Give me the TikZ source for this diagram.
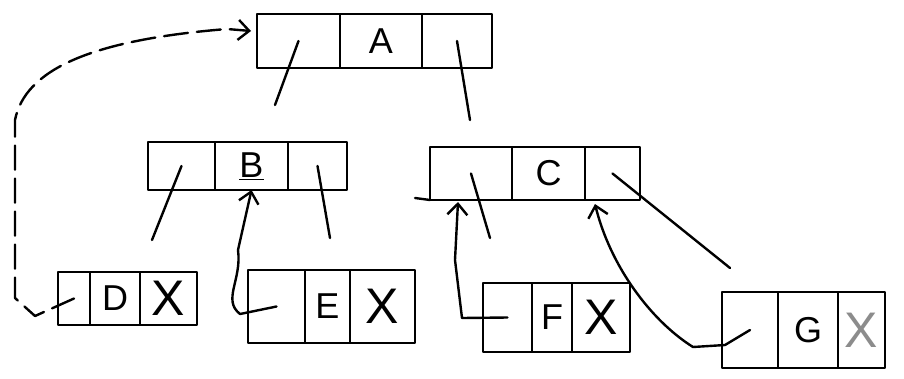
\documentclass[tikz,border=0pt]{standalone}
\usepackage{fontspec}
\setmainfont{Liberation Sans}
\usetikzlibrary{arrows.meta,calc}
\begin{document}
\begin{tikzpicture}[x=1pt,y=-1pt,
  line width=2.4pt, line cap=round, line join=round,
  cell/.style={draw, inner sep=0pt, outer sep=0pt, font=\fontsize{36}{36}\selectfont},
  nullx/.style={cell, font=\fontsize{50}{50}\selectfont},
  ptr/.style={draw},
  thread/.style={draw, -{Straight Barb[length=11pt,width=20pt,line width=2.4pt]}},
  dthread/.style={thread, dash pattern=on 24pt off 9pt}]
\useasboundingbox[fill=white] (0,0) rectangle (904,378);

% A
\node[cell, minimum width=83pt, minimum height=54pt] (Al) at (298.5,41) {};
\node[cell, minimum width=82pt, minimum height=54pt] (Ad) at (381,41) {A};
\node[cell, minimum width=70pt, minimum height=54pt] (Ar) at (457,41) {};
% B
\node[cell, minimum width=67pt, minimum height=48pt] (Bl) at (181.5,166) {};
\node[cell, minimum width=73pt, minimum height=48pt] (Bd) at (251.5,166) {\underline{B}};
\node[cell, minimum width=59pt, minimum height=48pt] (Br) at (317.5,166) {};
% C
\node[cell, minimum width=82pt, minimum height=53pt] (Cl) at (471,173.5) {};
\node[cell, minimum width=73pt, minimum height=53pt] (Cd) at (548.5,173.5) {C};
\node[cell, minimum width=55pt, minimum height=53pt] (Cr) at (612.5,173.5) {};
\draw (Cl.south west) -- ($(Cl.south west)+(-15,-2)$);
% D
\node[cell, minimum width=32pt, minimum height=53pt] (Dl) at (74,298.5) {};
\node[cell, minimum width=50pt, minimum height=53pt] (Dd) at (115,298.5) {D};
\node[nullx, minimum width=57pt, minimum height=53pt] (Dr) at (168.5,298.5) {X};
% E
\node[cell, minimum width=57pt, minimum height=73pt] (El) at (276.5,306.5) {};
\node[cell, minimum width=45pt, minimum height=73pt] (Ed) at (327.5,306.5) {E};
\node[nullx, minimum width=65pt, minimum height=73pt] (Er) at (382.5,306.5) {X};
% F
\node[cell, minimum width=49pt, minimum height=69pt] (Fl) at (507.5,317.5) {};
\node[cell, minimum width=40pt, minimum height=69pt] (Fd) at (552,317.5) {F};
\node[nullx, minimum width=58pt, minimum height=69pt] (Fr) at (601,317.5) {X};
% G
\node[cell, minimum width=56pt, minimum height=76pt] (Gl) at (750,330) {};
\node[cell, minimum width=60pt, minimum height=76pt] (Gd) at (808,330) {G};
\node[nullx, minimum width=47pt, minimum height=76pt, text=black!45] (Gr) at (861.5,330) {X};

% child pointers
\coordinate (eAB) at (275,105);
\coordinate (eAC) at (470,120);
\coordinate (eBD) at (152,240);
\coordinate (eBE) at (330,238);
\coordinate (eCF) at (490,238);
\coordinate (eCG) at (730,268);
\draw[ptr] (Al.center) -- (eAB);
\draw[ptr] (Ar.center) -- (eAC);
\draw[ptr] (Bl.center) -- (eBD);
\draw[ptr] (Br.center) -- (eBE);
\draw[ptr] (Cl.center) -- (eCF);
\draw[ptr] (Cr.center) -- (eCG);

% threads
\draw[dthread] (Dl.center) -- (35,316) -- (15,298) -- (15,120)
  .. controls (25,70) and (90,40) .. (227,29) -- ($(Al.west)+(-6,-10)$);
\draw[thread] (El.center) -- (240,314) .. controls (222,300) and (242,280) .. (238,250)
  -- (Bd.south);
\draw[thread] (Fl.center) -- (462,318) -- (455,260) -- ($(Cl.south)+(-13,2)$);
\draw[thread] (Gl.center) -- (725,345) -- (693,347)
  .. controls (650,320) and (610,265) .. ($(Cr.south west)+(10,4)$);
\end{tikzpicture}
\end{document}
